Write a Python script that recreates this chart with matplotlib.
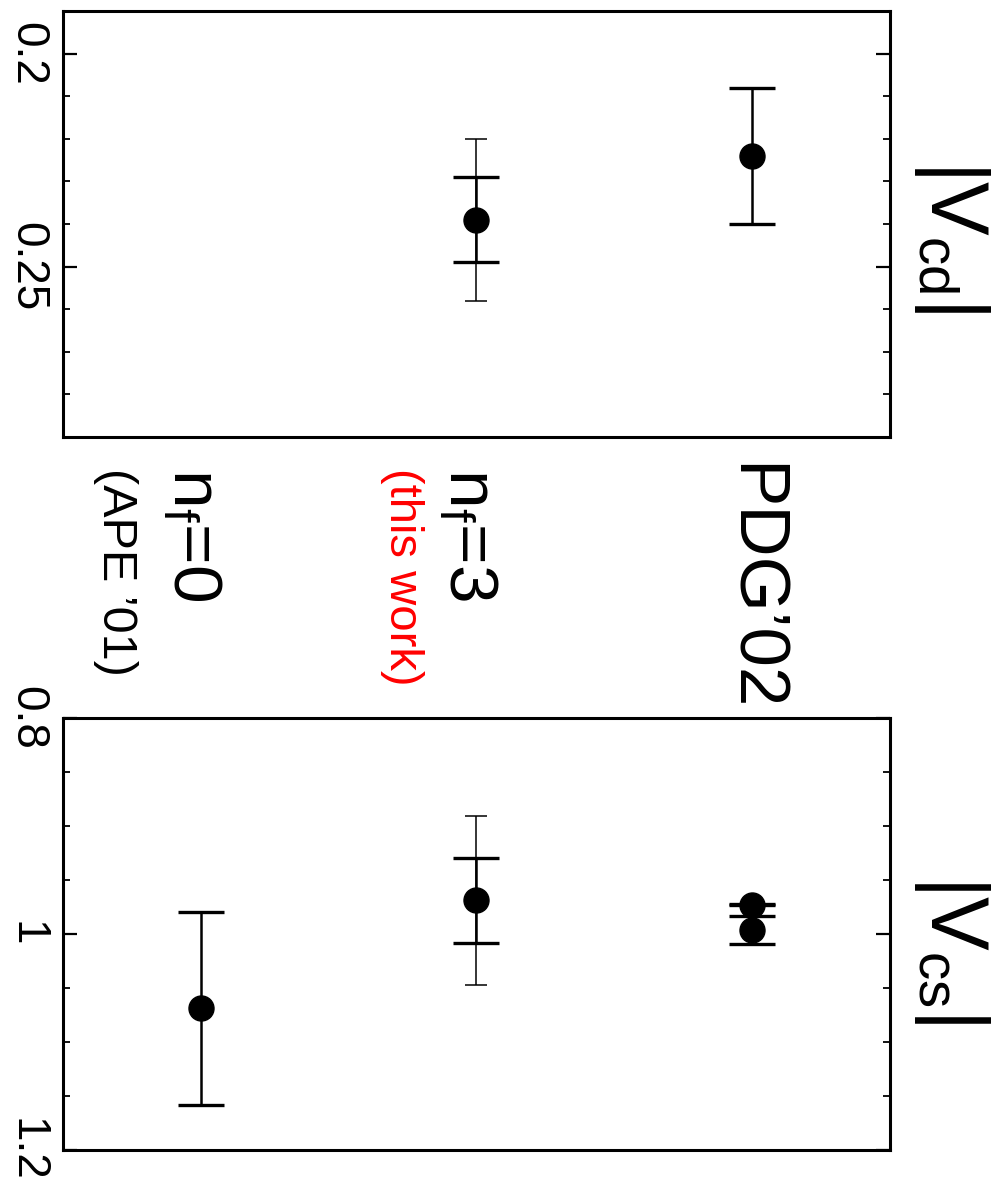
import numpy as np
import matplotlib.pyplot as plt
from matplotlib.transforms import blended_transform_factory

plt.rcParams['font.family'] = ['Liberation Sans', 'DejaVu Sans']
plt.rcParams['mathtext.fontset'] = 'custom'
plt.rcParams['mathtext.rm'] = 'Liberation Sans'
plt.rcParams['mathtext.it'] = 'Liberation Sans'

# category positions along the horizontal axis
pos = np.array([1, 2, 3])  # n_f=0, n_f=3, PDG'02

# |V_cd|
vcd_pos = [2, 3]
vcd_val = [0.239, 0.224]
vcd_err = [0.010, 0.016]      # statistical (nf=3) / total (PDG)
vcd_tot_pos = [2]
vcd_tot_val = [0.239]
vcd_tot_err = [0.019]

# |V_cs|
vcs_pos = [1, 2, 3, 3]
vcs_val = [1.069, 0.969, 0.996, 0.973]
vcs_err = [0.089, 0.039, 0.013, 0.0003]
vcs_tot_pos = [2]
vcs_tot_val = [0.969]
vcs_tot_err = [0.078]

vcd_ticks = [0.2, 0.25]
vcd_labels = ['0.2', '0.25']
vcs_ticks = [0.8, 1.0, 1.2]
vcs_labels = ['0.8', '1', '1.2']

fig = plt.figure(figsize=(10.01, 11.78), dpi=100)
ax1 = fig.add_axes([0.0626, 0.629, 0.8265, 0.3616])
ax2 = fig.add_axes([0.0626, 0.0238, 0.8265, 0.3667])


def style(ax, ylim, major, labels, minor):
    ax.set_xlim(0.5, 3.5)
    ax.set_ylim(*ylim)
    ax.set_xticks([])
    ax.set_yticks(major, labels)
    ax.set_yticks(minor, minor=True)
    ax.tick_params(axis='y', which='both', direction='in', left=True, right=True)
    ax.tick_params(axis='y', which='major', length=10, width=1.6, pad=10)
    ax.tick_params(axis='y', which='minor', length=5, width=1.3)
    for lab in ax.get_yticklabels():
        lab.set_fontsize(33)
        lab.set_rotation(-90)
        lab.set_verticalalignment('center')
        lab.set_horizontalalignment('right')
    for s in ax.spines.values():
        s.set_linewidth(2.2)


def points(ax, x, y, e, x2, y2, e2):
    # outer (total) error bars with short thin caps
    ax.errorbar(x2, y2, yerr=e2, fmt='none', ecolor='black', elinewidth=1.1,
                capsize=8, capthick=1.1)
    ax.errorbar(x, y, yerr=e, fmt='o', color='black', markersize=18,
                elinewidth=1.8, capsize=16.5, capthick=2.4)


style(ax1, (0.29, 0.19), vcd_ticks, vcd_labels,
      [0.21, 0.22, 0.23, 0.24, 0.26, 0.27, 0.28])
points(ax1, vcd_pos, vcd_val, vcd_err, vcd_tot_pos, vcd_tot_val, vcd_tot_err)

style(ax2, (1.2, 0.8), vcs_ticks, vcs_labels,
      [0.85, 0.9, 0.95, 1.05, 1.1, 1.15])
points(ax2, vcs_pos, vcs_val, vcs_err, vcs_tot_pos, vcs_tot_val, vcs_tot_err)

# category labels between the two panels
tr = blended_transform_factory(ax1.transData, fig.transFigure)
ytop = 1 - 463 / 1178
fig.text(3.0, ytop, "PDG\u201902", transform=tr, rotation=-90, fontsize=51,
         ha='center', va='top')
fig.text(1.97, ytop - 0.004, r"$\mathregular{n_f}$=3", transform=tr, rotation=-90,
         fontsize=50, ha='center', va='top')
fig.text(1.73, ytop - 0.004, "(this work)", transform=tr, rotation=-90,
         fontsize=34, ha='center', va='top', color='red')
fig.text(0.97, ytop - 0.004, r"$\mathregular{n_f}$=0", transform=tr, rotation=-90,
         fontsize=50, ha='center', va='top')
fig.text(0.69, ytop - 0.004, "(APE \u201901)", transform=tr, rotation=-90,
         fontsize=35, ha='center', va='top')

fig.text(0.951, 0.7997, r"$\mathregular{|V_{cd}|}$", rotation=-90, fontsize=58,
         ha='center', va='center')
fig.text(0.951, 0.1935, r"$\mathregular{|V_{cs}|}$", rotation=-90, fontsize=58,
         ha='center', va='center')

fig.savefig('out.png', dpi=100)
